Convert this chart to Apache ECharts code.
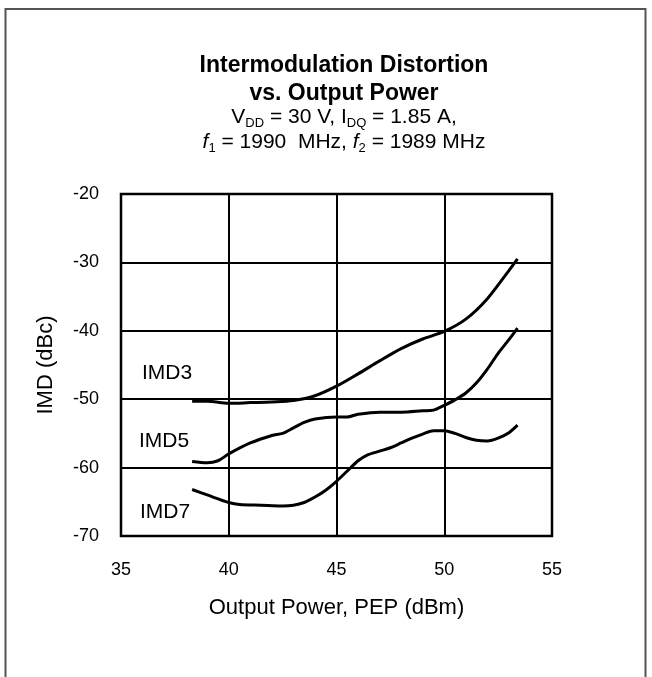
<!DOCTYPE html>
<html>
<head>
<meta charset="utf-8">
<script src="https://cdn.jsdelivr.net/npm/echarts@6/dist/echarts.min.js"></script>
<style>
html,body{margin:0;padding:0;background:#fff;}
#chart{width:652px;height:677px;}
</style>
</head>
<body>
<div id="chart"></div>
<script>
var FONT = '"Liberation Sans", Arial, sans-serif';

var xTicks = [35, 40, 45, 50, 55];
var yTicks = [-70, -60, -50, -40, -30, -20];

var imd3 = [[38.3,-50.3],[39,-50.3],[40,-50.6],[41,-50.5],[42,-50.4],[43,-50.2],[44,-49.5],[45,-48.1],[46,-46.3],[47,-44.4],[48,-42.6],[49,-41.2],[50,-40.1],[51,-38.3],[52,-35.3],[53,-31.2],[53.4,-29.5]];
var imd5 = [[38.3,-59.1],[39,-59.3],[39.5,-59.0],[40,-58.0],[41,-56.4],[42,-55.3],[42.5,-55.0],[43,-54.2],[43.5,-53.4],[44,-52.9],[45,-52.6],[45.5,-52.6],[46,-52.2],[47,-51.9],[48,-51.9],[49,-51.7],[49.5,-51.6],[50,-50.9],[50.5,-50.1],[51,-49.1],[51.5,-47.6],[52,-45.6],[52.5,-43.3],[53,-41.3],[53.4,-39.6]];
var imd7 = [[38.3,-63.2],[39,-64.0],[40,-65.1],[40.5,-65.4],[41.5,-65.5],[42.5,-65.6],[43,-65.5],[43.5,-65.1],[44,-64.3],[44.5,-63.3],[45,-62.0],[45.5,-60.5],[46,-59.0],[46.4,-58.2],[47,-57.6],[47.5,-57.1],[48,-56.4],[48.5,-55.7],[49,-55.1],[49.5,-54.6],[50,-54.6],[50.5,-55.0],[51,-55.6],[51.5,-56.0],[52,-56.1],[52.5,-55.7],[53,-54.9],[53.4,-53.8]];
var seriesNames = ['IMD3', 'IMD5', 'IMD7'];

var chart = echarts.init(document.getElementById('chart'), null, {renderer: 'canvas'});

function lineSeries(name, data) {
  return {
    name: name, type: 'line', data: data, smooth: 0.3, showSymbol: false,
    lineStyle: {color: '#000', width: 3}, z: 5
  };
}

var option = {
  backgroundColor: '#fff',
  animation: false,
  title: [{
    text: 'Intermodulation Distortion\nvs. Output Power',
    left: 339, top: 47, textAlign: 'center',
    textStyle: {fontFamily: FONT, fontSize: 23, fontWeight: 'bold', color: '#000', lineHeight: 28}
  }, {
    text: '{n|V}{s|DD}{n| = 30 V, I}{s|DQ}{n| = 1.85 A,}\n{i|f}{s|1}{n| = 1990  MHz, }{i|f}{s|2}{n| = 1989 MHz}',
    left: 339, top: 100, textAlign: 'center',
    textStyle: {
      fontFamily: FONT, fontSize: 21, fontWeight: 'normal', color: '#000', lineHeight: 25,
      rich: {
        n: {fontFamily: FONT, fontSize: 21, fontWeight: 'normal', color: '#000', lineHeight: 25},
        i: {fontFamily: FONT, fontSize: 21, fontWeight: 'normal', color: '#000', lineHeight: 25, fontStyle: 'italic'},
        s: {fontFamily: FONT, fontSize: 13, fontWeight: 'normal', color: '#000', lineHeight: 12, verticalAlign: 'bottom'}
      }
    }
  }],
  grid: {left: 121, top: 194, width: 431, height: 342, show: true, borderColor: '#000', borderWidth: 2.5, backgroundColor: 'transparent'},
  xAxis: {
    type: 'value', min: xTicks[0], max: xTicks[xTicks.length - 1], interval: 5,
    name: 'Output Power, PEP (dBm)', nameLocation: 'middle', nameGap: 61,
    nameTextStyle: {fontFamily: FONT, fontSize: 22, color: '#000'},
    axisLine: {show: false}, axisTick: {show: false},
    axisLabel: {fontFamily: FONT, fontSize: 18, color: '#000', margin: 25},
    splitLine: {show: true, lineStyle: {color: '#000', width: 2}}
  },
  yAxis: {
    type: 'value', min: yTicks[0], max: yTicks[yTicks.length - 1], interval: 10,
    name: 'IMD (dBc)', nameLocation: 'middle', nameGap: 64,
    nameTextStyle: {fontFamily: FONT, fontSize: 22, color: '#000'},
    axisLine: {show: false}, axisTick: {show: false},
    axisLabel: {fontFamily: FONT, fontSize: 18, color: '#000', margin: 22},
    splitLine: {show: true, lineStyle: {color: '#000', width: 2}}
  },
  series: [lineSeries(seriesNames[0], imd3), lineSeries(seriesNames[1], imd5), lineSeries(seriesNames[2], imd7)],
  graphic: [
    {type: 'rect', shape: {x: 5.5, y: 9, width: 640, height: 700}, style: {fill: 'none', stroke: '#555', lineWidth: 2}, silent: true},
    {type: 'text', x: 167, y: 373, style: {text: seriesNames[0], font: '21px ' + FONT, fill: '#000', textAlign: 'center', textVerticalAlign: 'middle'}},
    {type: 'text', x: 164, y: 441, style: {text: seriesNames[1], font: '21px ' + FONT, fill: '#000', textAlign: 'center', textVerticalAlign: 'middle'}},
    {type: 'text', x: 165, y: 512, style: {text: seriesNames[2], font: '21px ' + FONT, fill: '#000', textAlign: 'center', textVerticalAlign: 'middle'}}
  ]
};
chart.setOption(option);
</script>
</body>
</html>
